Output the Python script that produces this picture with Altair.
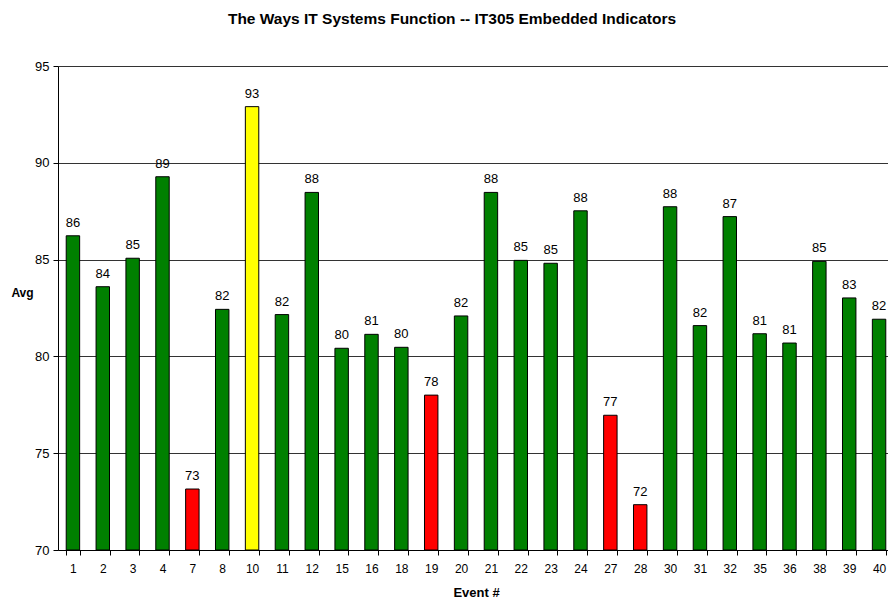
import altair as alt
import pandas as pd

events = ["1", "2", "3", "4", "7", "8", "10", "11", "12", "15", "16", "18", "19", "20",
          "21", "22", "23", "24", "27", "28", "30", "31", "32", "35", "36", "38", "39", "40"]
avgs = [86.23, 83.6, 85.07, 89.28, 73.15, 82.43, 92.9, 82.16, 88.47, 80.42, 81.14, 80.47,
        78.0, 82.09, 88.47, 84.96, 84.81, 87.52, 76.96, 72.34, 87.73, 81.59, 87.22, 81.17,
        80.69, 84.91, 83.02, 81.92]

def level(v):
    if v >= 90:
        return "high"
    if v < 80:
        return "low"
    return "mid"

df = pd.DataFrame({"event": events, "avg": avgs})
df["level"] = [level(v) for v in avgs]

FONT = "Liberation Sans"

x = alt.X("event:N", sort=events, title="Event #",
          scale=alt.Scale(paddingInner=0.55, paddingOuter=0.275),
          axis=alt.Axis(labelAngle=0, tickBand="extent", tickSize=5, tickColor="black",
                        domainColor="black", labelPadding=8, labelFontSize=12,
                        labelColor="black", titleFontSize=13, titleFontWeight="bold",
                        titleColor="black", titlePadding=12, grid=False))
y = alt.Y("avg:Q", title="Avg",
          scale=alt.Scale(domain=[70, 95], nice=False, zero=False),
          axis=alt.Axis(values=[70, 75, 80, 85, 90, 95], tickSize=5, tickColor="black",
                        domainColor="black", labelPadding=4, labelFontSize=13,
                        labelColor="black", gridColor="#333333", gridOpacity=1,
                        titleAngle=0, titleFontSize=12, titleFontWeight="bold",
                        titleColor="black", titleX=-36, titleY=226,
                        titleAlign="center", titleBaseline="middle"))

bars = alt.Chart(df).mark_bar(stroke="black", strokeWidth=1).encode(
    x=x,
    y=y,
    y2=alt.datum(70),
    color=alt.Color("level:N",
                    scale=alt.Scale(domain=["low", "mid", "high"],
                                    range=["#FF0000", "#008000", "#FFFF00"]),
                    legend=None),
)

labels = alt.Chart(df).mark_text(baseline="bottom", dy=-6, fontSize=13,
                                 font=FONT, color="black").encode(
    x=alt.X("event:N", sort=events),
    y=alt.Y("avg:Q"),
    text=alt.Text("avg:Q", format=".0f"),
)

chart = (bars + labels).properties(
    width=836, height=484,
    title=alt.TitleParams("The Ways IT Systems Function -- IT305 Embedded Indicators",
                          fontSize=15.5, fontWeight="bold", font=FONT, color="black",
                          offset=33, dx=-24),
    autosize=alt.AutoSizeParams(type="none"),
    padding={"left": 50, "top": 58, "right": -6, "bottom": 50},
).configure(font=FONT).configure_view(stroke=None).configure_axis(
    labelFont=FONT, titleFont=FONT)

chart.save("out.html", embed_options={"renderer": "svg", "actions": False})
